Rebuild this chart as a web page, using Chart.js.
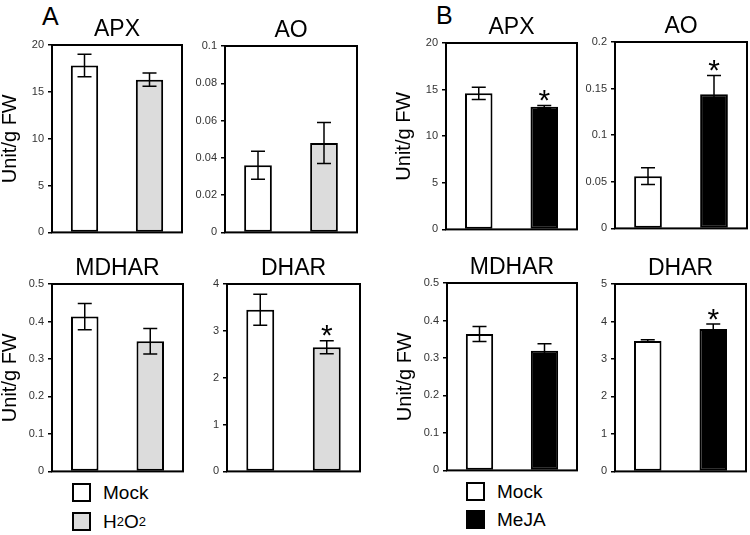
<!DOCTYPE html>
<html>
<head>
<meta charset="utf-8">
<script src="https://cdn.jsdelivr.net/npm/chart.js@4.4.1/dist/chart.umd.min.js"></script>
<style>
  body { margin: 0; background: #fff; width: 750px; height: 535px; position: relative; overflow: hidden;
         font-family: "Liberation Sans", Arial, Helvetica, sans-serif; color: #000; }
  canvas { position: absolute; }
  .letter { position: absolute; font-size: 25px; line-height: 1; }
  .leg { position: absolute; font-size: 19px; line-height: 1; display: flex; align-items: center; }
  .leg sub { font-size: 13px; }
  .sw { width: 15px; height: 15px; border: 2px solid #000; margin-right: 12px; }
</style>
</head>
<body>
<div class="letter" style="left:42px;top:4px;">A</div>
<div class="letter" style="left:436px;top:3px;">B</div>

<div class="leg" style="left:72px;top:483px;"><div class="sw" style="background:#fff"></div>Mock</div>
<div class="leg" style="left:72px;top:512px;"><div class="sw" style="background:#dcdcdc"></div>H<sub>2</sub>O<sub>2</sub></div>
<div class="leg" style="left:466px;top:482px;"><div class="sw" style="background:#fff"></div>Mock</div>
<div class="leg" style="left:466px;top:510px;"><div class="sw" style="background:#000"></div>MeJA</div>

<script>
// treatments
const labelsA = ['Mock', 'H2O2'];
const labelsB = ['Mock', 'MeJA'];

// panel A (H2O2), means and errors
const apxA = [17.8, 16.3];
const apxAErr = [1.2, 0.7];
const aoA = [0.036, 0.048];
const aoAErr = [0.0075, 0.011];
const mdharA = [0.413, 0.347];
const mdharAErr = [0.035, 0.034];
const dharA = [3.45, 2.65];
const dharAErr = [0.33, 0.14];

// panel B (MeJA)
const apxB = [14.6, 13.15];
const apxBErr = [0.65, 0.15];
const aoB = [0.056, 0.144];
const aoBErr = [0.009, 0.02];
const mdharB = [0.364, 0.319];
const mdharBErr = [0.02, 0.019];
const dharB = [3.48, 3.80];
const dharBErr = [0.03, 0.13];

// significance marks
const starApxA = [false, false];
const starAoA = [false, false];
const starMdharA = [false, false];
const starDharA = [false, true];
const starApxB = [false, true];
const starAoB = [false, true];
const starMdharB = [false, false];
const starDharB = [false, true];

const FONT = '"Liberation Sans", Arial, Helvetica, sans-serif';

// error bars, stars and the frame round the plot
const extras = {
  id: 'extras',
  afterDatasetsDraw(chart, args, opts) {
    const ctx = chart.ctx;
    const y = chart.scales.y;
    const meta = chart.getDatasetMeta(0);
    ctx.save();
    ctx.strokeStyle = '#000';
    ctx.lineWidth = 1.5;
    meta.data.forEach((bar, i) => {
      const v = opts.values[i], e = opts.errors[i];
      const top = y.getPixelForValue(v + e);
      const bot = y.getPixelForValue(v - e);
      ctx.beginPath();
      ctx.moveTo(bar.x, top); ctx.lineTo(bar.x, bot);
      ctx.moveTo(bar.x - 7, top); ctx.lineTo(bar.x + 7, top);
      ctx.moveTo(bar.x - 7, bot); ctx.lineTo(bar.x + 7, bot);
      ctx.stroke();
      if (opts.stars[i]) {
        ctx.font = '30px ' + FONT;
        ctx.fillStyle = '#000';
        ctx.textAlign = 'center';
        ctx.textBaseline = 'alphabetic';
        const m = ctx.measureText('*');
        const c = top - 10;
        const base = c - (m.actualBoundingBoxDescent - m.actualBoundingBoxAscent) / 2;
        ctx.fillText('*', bar.x, base);
      }
    });
    const a = chart.chartArea;
    ctx.lineWidth = 2;
    ctx.strokeRect(a.left, a.top, a.right - a.left, a.bottom - a.top);
    ctx.restore();
  }
};

function panel(title, labels, values, errors, stars, colors, max, step, box, yLabel) {
  const [l, t, r, b] = box;
  const yW = yLabel ? 52 : 40;
  const cv = document.createElement('canvas');
  const w = yW + (r - l) + 2;
  const h = 30 + (b - t) + 10;
  cv.width = w; cv.height = h;
  cv.style.left = (l - yW) + 'px';
  cv.style.top = (t - 30) + 'px';
  cv.style.width = w + 'px';
  cv.style.height = h + 'px';
  document.body.appendChild(cv);

  new Chart(cv, {
    type: 'bar',
    data: {
      labels: labels,
      datasets: [{
        data: values,
        backgroundColor: colors,
        borderColor: '#000',
        borderWidth: 2,
        borderSkipped: false,
        barPercentage: 0.84,
        categoryPercentage: 0.5
      }]
    },
    options: {
      responsive: false,
      animation: false,
      devicePixelRatio: 1,
      layout: { padding: { top: 0, left: 0, right: 2, bottom: 10 } },
      plugins: {
        legend: { display: false },
        tooltip: { enabled: false },
        title: {
          display: true,
          fullSize: false, // centre over the plot box, not the canvas
          text: title,
          color: '#000',
          font: { family: FONT, size: 23, weight: 'normal', lineHeight: 1 },
          padding: { top: 3, bottom: 4 }
        },
        extras: { values: values, errors: errors, stars: stars }
      },
      scales: {
        x: { display: false },
        y: {
          min: 0,
          max: max,
          afterFit: (s) => { s.width = yW; },
          ticks: {
            stepSize: step,
            color: '#333',
            padding: 4,
            font: { family: FONT, size: 11 },
            callback: (v) => String(+v.toFixed(3))
          },
          grid: { drawOnChartArea: false, drawTicks: true, tickLength: 4, color: '#000', lineWidth: 1.5 },
          border: { display: false },
          title: {
            display: yLabel,
            text: 'Unit/g FW',
            color: '#000',
            padding: { top: 0, bottom: 0 },
            font: { family: FONT, size: 20, lineHeight: 1 }
          }
        }
      }
    },
    plugins: [extras]
  });
}

const colA = ['#ffffff', '#dcdcdc'];
const colB = ['#ffffff', '#000000'];

panel('APX', labelsA, apxA, apxAErr, starApxA, colA, 20, 5, [52, 45, 182, 233], true);
panel('AO', labelsA, aoA, aoAErr, starAoA, colA, 0.1, 0.02, [225, 46, 357, 233], false);
panel('MDHAR', labelsA, mdharA, mdharAErr, starMdharA, colA, 0.5, 0.1, [52, 284, 183, 472], true);
panel('DHAR', labelsA, dharA, dharAErr, starDharA, colA, 4, 1, [227, 284, 360, 472], false);

panel('APX', labelsB, apxB, apxBErr, starApxB, colB, 20, 5, [446, 43, 577, 230], true);
panel('AO', labelsB, aoB, aoBErr, starAoB, colB, 0.2, 0.05, [615, 42, 747, 229], false);
panel('MDHAR', labelsB, mdharB, mdharBErr, starMdharB, colB, 0.5, 0.1, [447, 283, 577, 471], true);
panel('DHAR', labelsB, dharB, dharBErr, starDharB, colB, 5, 1, [615, 284, 746, 472], false);
</script>
</body>
</html>
